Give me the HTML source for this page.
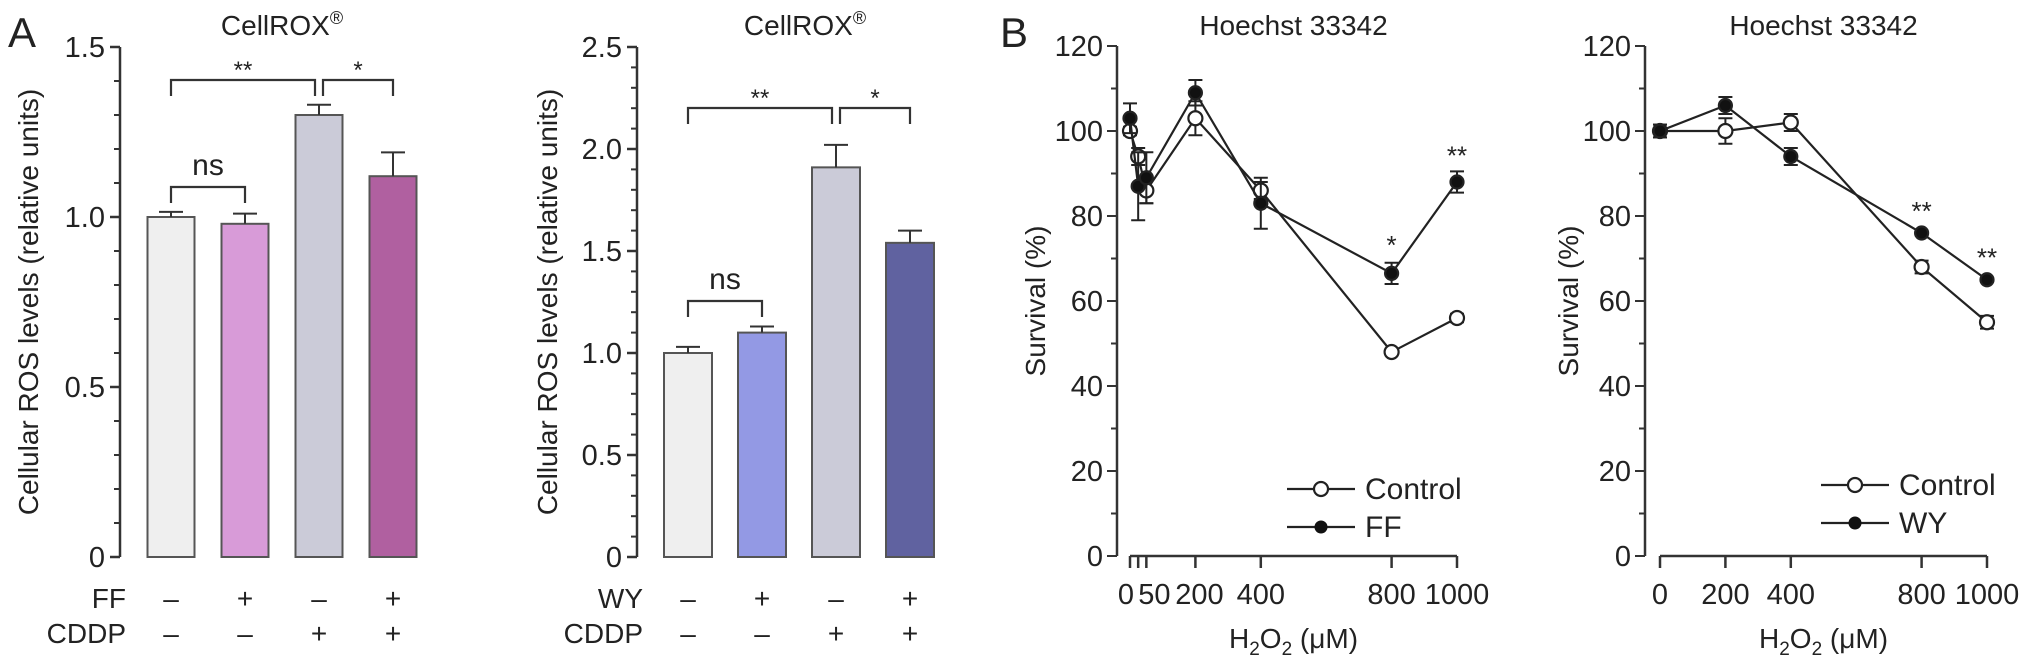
<!DOCTYPE html>
<html><head><meta charset="utf-8"><style>
body{margin:0;background:#fff;}
svg{display:block;font-family:"Liberation Sans",sans-serif;}
</style></head><body>
<svg id="fig" width="2032" height="663" viewBox="0 0 2032 663"></svg>
<script>
// Panel A1 data
const a1Values=[1.0,0.98,1.30,1.12];
const a1Errors=[0.015,0.03,0.03,0.07];
const a1Colors=["#efefef","#d89bd8","#cbcbd8","#b060a0"];
const a1Ticks=[0,0.5,1.0,1.5];
const a1TickLabels=["0","0.5","1.0","1.5"];
const a1Row1=["–","+","–","+"];
const a1Row2=["–","–","+","+"];
// Panel A2 data
const a2Values=[1.0,1.1,1.91,1.54];
const a2Errors=[0.03,0.03,0.11,0.06];
const a2Colors=["#efefef","#9399e4","#cbcbd8","#6062a0"];
const a2Ticks=[0,0.5,1.0,1.5,2.0,2.5];
const a2TickLabels=["0","0.5","1.0","1.5","2.0","2.5"];
// Panel B1 data
const b1X=[0,25,50,200,400,800,1000];
const b1Control=[100,94,86,103,86,48,56];
const b1ControlErr=[1,2,3,4,2,0.5,1];
const b1FF=[103,87,89,109,83,66.5,88];
const b1FFErr=[3.5,8,6,3,6,2.5,2.5];
const b1XTicks=[0,50,200,400,800,1000];
const b1XTickLabels=["0","50","200","400","800","1000"];
// Panel B2 data
const b2X=[0,200,400,800,1000];
const b2Control=[100,100,102,68,55];
const b2ControlErr=[1.5,3,2,1.5,1.5];
const b2WY=[100,106,94,76,65];
const b2WYErr=[1.5,2,2,0.5,0.5];
const b2XTickLabels=["0","200","400","800","1000"];
const yTicksB=[0,20,40,60,80,100,120];

const svg=document.getElementById('fig');
const NS="http://www.w3.org/2000/svg";
function mk(tag,attrs,parent){const e=document.createElementNS(NS,tag);for(const k in attrs)e.setAttribute(k,attrs[k]);(parent||svg).appendChild(e);return e;}
function txt(x,y,s,size,anchor,parent){const t=mk('text',{x:x,y:y,'font-size':size,'text-anchor':anchor||'middle',fill:'#222'},parent);t.textContent=s;return t;}
const C="#333";

function barPanel(o){
  const g=mk('g',{});
  
  
  const y=v=>o.y0-(v/o.ymax)*(o.y0-o.ytop);
  mk('line',{x1:o.ax,y1:o.ytop,x2:o.ax,y2:o.y0,stroke:C,'stroke-width':2.5},g);
  for(let v=0;v<=o.ymax+1e-9;v+=0.1){mk('line',{x1:o.ax-6,y1:y(v),x2:o.ax,y2:y(v),stroke:C,'stroke-width':2},g);}
  o.ticks.forEach((v,i)=>{mk('line',{x1:o.ax-10,y1:y(v),x2:o.ax,y2:y(v),stroke:C,'stroke-width':2.5},g);
    txt(o.ax-15,y(v)+10,o.tickLabels[i],29,'end',g);});
  o.values.forEach((v,i)=>{
    const cx=o.x0+i*o.step;
    const r=mk('rect',{x:cx-o.bw/2,y:y(v),width:o.bw,height:o.y0-y(v),fill:o.colors[i],stroke:'#555','stroke-width':2},g);
    
    
    const ye=y(v+o.errors[i]);
    mk('line',{x1:cx,y1:y(v),x2:cx,y2:ye,stroke:C,'stroke-width':2},g);
    mk('line',{x1:cx-12,y1:ye,x2:cx+12,y2:ye,stroke:C,'stroke-width':2},g);
    txt(cx,o.rowY1,o.row1[i],28,'middle',g);
    txt(cx,o.rowY2,o.row2[i],28,'middle',g);
  });
  txt(o.ax+6,o.rowY1,o.rowName,28,'end',g);
  txt(o.ax+6,o.rowY2,'CDDP',28,'end',g);
  const c=o.x0, c2=o.x0+o.step, c3=o.x0+2*o.step, c4=o.x0+3*o.step;
  function br(xa,xb,yy,label,size,dy){mk('path',{d:`M${xa},${yy+16} V${yy} H${xb} V${yy+16}`,fill:'none',stroke:C,'stroke-width':2.2},g);txt((xa+xb)/2,yy-dy,label,size,'middle',g);}
  br(c,c3-4,o.bigY,'**',24,2);
  br(c3+4,c4,o.bigY,'*',24,2);
  br(c,c2,o.nsY,'ns',30,12);
  const t=txt(o.titleX,35,'CellROX',28,'middle',g);
  const s=mk('tspan',{'font-size':18,dy:-11},t);s.textContent='®';
  const yt=mk('text',{x:0,y:0,'font-size':28,'text-anchor':'middle',fill:'#222',transform:`translate(${o.ytX},${(o.ytop+o.y0)/2}) rotate(-90)`},g);
  yt.textContent='Cellular ROS levels (relative units)';
}
barPanel({name:'panel-a1',ax:120,y0:557,ytop:47,ymax:1.5,ticks:a1Ticks,tickLabels:a1TickLabels,values:a1Values,errors:a1Errors,colors:a1Colors,
  x0:171,step:74,bw:47,row1:a1Row1,row2:a1Row2,rowName:'FF',rowY1:608,rowY2:643,bigY:80,nsY:187,titleX:282,ytX:38});
barPanel({name:'panel-a2',ax:637,y0:557,ytop:47,ymax:2.5,ticks:a2Ticks,tickLabels:a2TickLabels,values:a2Values,errors:a2Errors,colors:a2Colors,
  x0:688,step:74,bw:48,row1:a1Row1,row2:a1Row2,rowName:'WY',rowY1:608,rowY2:643,bigY:108,nsY:301,titleX:805,ytX:557});
txt(22,47,'A',42,'middle');
txt(1014,47,'B',42,'middle');

function linePanel(o){
  const g=mk('g',{});
  
  
  const y=v=>o.y0-(v/120)*(o.y0-o.ytop);
  const x=v=>o.x0+(v/1000)*(o.x1-o.x0);
  mk('line',{x1:o.ax,y1:o.ytop,x2:o.ax,y2:o.y0,stroke:C,'stroke-width':2.5},g);
  for(let v=0;v<=120;v+=10){mk('line',{x1:o.ax-(v%20?6:10),y1:y(v),x2:o.ax,y2:y(v),stroke:C,'stroke-width':2},g);}
  yTicksB.forEach(v=>txt(o.ax-14,y(v)+10,String(v),29,'end',g));
  mk('line',{x1:o.x0,y1:o.y0,x2:o.x1,y2:o.y0,stroke:C,'stroke-width':2.5},g);
  o.xticks.forEach(v=>mk('line',{x1:x(v),y1:o.y0,x2:x(v),y2:o.y0+12,stroke:C,'stroke-width':2.5},g));
  o.xtickLabelPos.forEach((v,i)=>txt(x(v)+(o.labelShift[i]||0),o.y0+48,o.xtickLabels[i],29,'middle',g));
  const xt=txt((o.x0+o.x1)/2,o.y0+92,'H',28,'middle',g);
  let s=mk('tspan',{'font-size':19,dy:7},xt);s.textContent='2';
  s=mk('tspan',{dy:-7},xt);s.textContent='O';
  s=mk('tspan',{'font-size':19,dy:7},xt);s.textContent='2';
  s=mk('tspan',{dy:-7},xt);s.textContent=' (μM)';
  txt((o.x0+o.x1)/2,35,'Hoechst 33342',28,'middle',g);
  const yt=mk('text',{x:0,y:0,'font-size':28,'text-anchor':'middle',fill:'#222',transform:`translate(${o.ytX},${(o.ytop+o.y0)/2}) rotate(-90)`},g);
  yt.textContent='Survival (%)';
  function series(xs,vals,errs,filled,nm){
    const p=mk('polyline',{points:xs.map((v,i)=>x(v)+','+y(vals[i])).join(' '),fill:'none',stroke:'#222','stroke-width':2.2},g);
    
    
    xs.forEach((v,i)=>{
      const cx=x(v);
      mk('line',{x1:cx,y1:y(vals[i]-errs[i]),x2:cx,y2:y(vals[i]+errs[i]),stroke:'#222','stroke-width':2},g);
      mk('line',{x1:cx-7,y1:y(vals[i]-errs[i]),x2:cx+7,y2:y(vals[i]-errs[i]),stroke:'#222','stroke-width':2},g);
      mk('line',{x1:cx-7,y1:y(vals[i]+errs[i]),x2:cx+7,y2:y(vals[i]+errs[i]),stroke:'#222','stroke-width':2},g);
      const c=mk('circle',{cx:cx,cy:y(vals[i]),r:filled?6.5:7,fill:filled?'#111':'#fff',stroke:'#222','stroke-width':2.2},g);
      
      
    });
  }
  series(o.xs,o.ctrl,o.ctrlErr,false,'control');
  series(o.xs,o.trt,o.trtErr,true,o.trtName.toLowerCase());
  o.stars.forEach(s=>txt(x(s[0]),y(s[1])+8,s[2],26,'middle',g));
  const lg=mk('g',{},g);
  
  
  mk('line',{x1:o.lx,y1:o.ly,x2:o.lx+68,y2:o.ly,stroke:'#222','stroke-width':2.2},lg);
  mk('circle',{cx:o.lx+34,cy:o.ly,r:7,fill:'#fff',stroke:'#222','stroke-width':2.2},lg);
  txt(o.lx+78,o.ly+10,'Control',30,'start',lg);
  mk('line',{x1:o.lx,y1:o.ly+38,x2:o.lx+68,y2:o.ly+38,stroke:'#222','stroke-width':2.2},lg);
  mk('circle',{cx:o.lx+34,cy:o.ly+38,r:6.5,fill:'#111'},lg);
  txt(o.lx+78,o.ly+48,o.trtName,30,'start',lg);
}
linePanel({name:'panel-b1',ax:1117,y0:556,ytop:46,x0:1130,x1:1457,xs:b1X,ctrl:b1Control,ctrlErr:b1ControlErr,trt:b1FF,trtErr:b1FFErr,trtName:'FF',
  xticks:[0,25,50,200,400,800,1000],xtickLabelPos:b1XTicks,xtickLabels:b1XTickLabels,labelShift:[-4,8,4,0,0,0],
  stars:[[800,73,'*'],[1000,94,'**']],lx:1287,ly:489,ytX:1045});
linePanel({name:'panel-b2',ax:1645,y0:556,ytop:46,x0:1660,x1:1987,xs:b2X,ctrl:b2Control,ctrlErr:b2ControlErr,trt:b2WY,trtErr:b2WYErr,trtName:'WY',
  xticks:b2X,xtickLabelPos:b2X,xtickLabels:b2XTickLabels,labelShift:[],
  stars:[[800,81,'**'],[1000,70,'**']],lx:1821,ly:485,ytX:1578});
</script>
</body></html>
